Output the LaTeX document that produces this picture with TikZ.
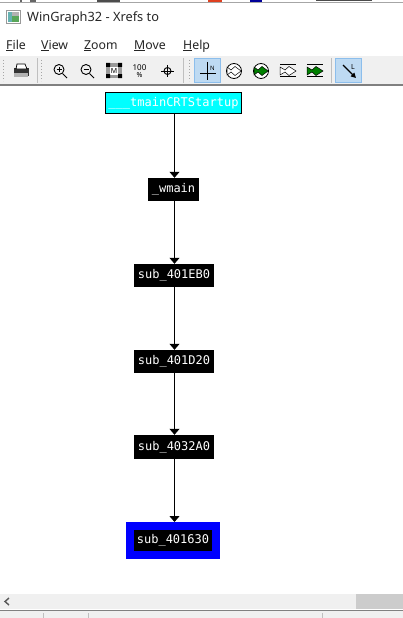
\documentclass[tikz,border=0pt]{standalone}
\usepackage{fontspec}
\setmainfont{Noto Sans}
\setmonofont{DejaVu Sans Mono}
\usetikzlibrary{arrows.meta}
\definecolor{barbg}{RGB}{240,240,240}
\definecolor{btnsel}{RGB}{190,218,242}
\definecolor{btnedge}{RGB}{140,190,236}
\definecolor{fishgreen}{RGB}{0,128,0}
\definecolor{purecyan}{RGB}{0,255,255}
\definecolor{pureblue}{RGB}{0,0,255}
\newcommand{\ul}[1]{\underline{#1}}
\tikzset{
 x=1pt,y=-1pt,
 fn/.style={fill=black,text=white,inner sep=0pt,font=\ttfamily\fontsize{12}{12}\selectfont,minimum height=23pt,anchor=center},
 edgeline/.style={draw=black,line width=1pt,-{Triangle[length=6pt,width=10pt]}},
 menu/.style={anchor=base west,inner sep=0pt,font=\fontsize{12.3}{14}\selectfont,text=black!85},
 tool/.style={line width=.9pt,black},
 grip/.style={draw=black!35,line width=1pt,dash pattern=on 1pt off 2pt},
 sep/.style={draw=black!25,line width=1pt},
}
\begin{document}
\begin{tikzpicture}
\useasboundingbox (0,0) rectangle (403,618);
\fill[white] (0,0) rectangle (403,618);
% strip of the window behind
\fill[black!35] (0,2.5) rectangle (403,3.5);
\fill[black!60] (20,0) rectangle (22,2.5);
\fill[black!60] (30,0) rectangle (36,2.5);
\fill[black!70] (97,0) rectangle (120,2);
\fill[red!50!brown] (208,0) rectangle (222,2.5);
\fill[blue!60!black] (250,0) rectangle (262,2.5);
\fill[black!70] (316,0) rectangle (372,1.5);
% title bar
\fill[black!40] (6,10) rectangle (21,24);
\fill[white] (7,11) rectangle (20,23);
\fill[teal!60] (8,12) rectangle (12,22);
\fill[black!30] (12,12) rectangle (19,16);
\fill[green!30!gray] (12,16) rectangle (19,22);
\node[anchor=base west,inner sep=0pt,font=\fontsize{12.8}{14}\selectfont,text=black!85] (title) at (27,22) {WinGraph32 - Xrefs to};
% menu
\node[menu] (mfile) at (6,49) {\ul{F}ile};
\node[menu] (mview) at (41,49) {\ul{V}iew};
\node[menu] (mzoom) at (84,49) {\ul{Z}oom};
\node[menu] (mmove) at (134,49) {\ul{M}ove};
\node[menu] (mhelp) at (183,49) {\ul{H}elp};
% toolbar
\fill[barbg] (0,56) rectangle (403,84);
\fill[black!50] (0,84) rectangle (403,86);
\draw[grip] (3,60) -- (3,81);
\draw[grip] (41,60) -- (41,81);
\draw[grip] (189,60) -- (189,81);
\draw[sep] (37,58) -- (37,83);
\draw[sep] (183,58) -- (183,83);
\draw[sep] (331,58) -- (331,83);
% printer
\fill[black!80] (14,68) rectangle (29,76);
\fill[white] (17,64) -- (25,64) -- (27,69) -- (16,69) -- cycle;
\draw[black,line width=.7pt] (17,64) -- (25,64) -- (27,69) -- (16,69) -- cycle;
\fill[black!30] (14,73) rectangle (28,77);
% zoom in/out
\draw[tool] (59,69.5) circle (5); \draw[tool] (62.5,73.5) -- (67,78);
\draw[tool,line width=.7pt] (56.5,69.5) -- (61.5,69.5) (59,67) -- (59,72);
\draw[tool] (86,69.5) circle (5); \draw[tool] (89.5,73.5) -- (94,78);
\draw[tool,line width=.7pt] (83.5,69.5) -- (88.5,69.5);
% fit
\fill[black!40] (106,63) rectangle (122,78);
\fill[white] (110,67) rectangle (118,75);
\fill[black] (106,63) rectangle (110,67) (118,63) rectangle (122,67) (106,74) rectangle (110,78) (118,74) rectangle (122,78);
\node[inner sep=0pt,font=\fontsize{7}{7}\selectfont] (fitm) at (114,71) {M};
% 100%
\node[inner sep=0pt,font=\fontsize{8}{8}\selectfont] (hund) at (139.5,67.5) {100};
\node[inner sep=0pt,font=\fontsize{7}{7}\selectfont] (pct) at (139.5,75.5) {\%};
% centre
\draw[tool] (167.5,71) circle (3.5);
\draw[tool] (161,71) -- (174,71) (167.5,65) -- (167.5,77);
% selected N button
\fill[btnsel,draw=btnedge] (194.5,58.5) rectangle (220.5,82.5);
\draw[black,line width=1pt] (200,73) -- (216,73) (207.5,62) -- (207.5,80);
\node[inner sep=0pt,font=\fontsize{6}{6}\bfseries\selectfont] (nlab) at (212.5,68) {N};
% circle fishes
\foreach \cx/\fc in {234/white,261/fishgreen}{
 \draw[black,line width=.8pt,fill=white] (\cx,71) circle (7.5);
 \fill[\fc,draw=black,line width=.5pt] (\cx-7,67) -- (\cx-3,70) -- (\cx+1,66.5) -- (\cx+7,71) -- (\cx+1,75.5) -- (\cx-3,72) -- (\cx-7,75) -- cycle;
}
% bar fishes
\foreach \cx/\fc in {288/white,315/fishgreen}{
 \draw[black,line width=1pt] (\cx-8,64.5) -- (\cx+8,64.5) (\cx-8,76.5) -- (\cx+8,76.5);
 \fill[\fc,draw=black,line width=.5pt] (\cx-8,67) -- (\cx-3,70) -- (\cx+1,66.5) -- (\cx+8,71) -- (\cx+1,75.5) -- (\cx-3,72) -- (\cx-8,75) -- cycle;
}
% selected arrow button
\fill[btnsel,draw=btnedge] (335.5,58.5) rectangle (361.5,82.5);
\draw[black,line width=1.2pt,-{Triangle[length=5pt,width=5pt]}] (343,65) -- (356,78);
\node[inner sep=0pt,font=\fontsize{7}{7}\bfseries\selectfont] (llab) at (353,67) {L};
% graph nodes
\node[fn,fill=purecyan,draw=black,line width=1pt,minimum width=136pt,minimum height=21pt] (n0) at (173.5,103) {\_\_\_tmainCRTStartup};
\node[fn,minimum width=51pt] (n1) at (173.5,189.5) {\_wmain};
\node[fn,minimum width=80pt] (n2) at (174,275.5) {sub\_401EB0};
\node[fn,minimum width=80pt] (n3) at (174,361.5) {sub\_401D20};
\node[fn,minimum width=80pt,minimum height=24pt] (n4) at (174,447) {sub\_4032A0};
\node[fn,draw=pureblue,line width=8pt,minimum width=86pt,minimum height=29pt] (n5) at (173,540.5) {sub\_401630};
\draw[edgeline] (n0.south -| 174.5,0) -- (n1.north -| 174.5,0);
\draw[edgeline] (n1.south -| 174.5,0) -- (n2.north -| 174.5,0);
\draw[edgeline] (n2.south -| 174.5,0) -- (n3.north -| 174.5,0);
\draw[edgeline] (n3.south -| 174.5,0) -- (n4.north -| 174.5,0);
\draw[edgeline] (n4.south -| 174.5,0) -- (n5.north -| 174.5,0);
% scroll bar
\fill[barbg] (0,594) rectangle (403,609);
\fill[black!20] (356,594) rectangle (403,609);
\draw[black!65,line width=1.4pt] (9,598) -- (5,601.5) -- (9,605);
\fill[black!50] (0,610) rectangle (403,611);
\fill[barbg] (0,611) rectangle (403,618);
\draw[black!25,line width=1pt] (43.5,613) -- (43.5,618) (88.5,613) -- (88.5,618) (322.5,613) -- (322.5,618);
\end{tikzpicture}
\end{document}
